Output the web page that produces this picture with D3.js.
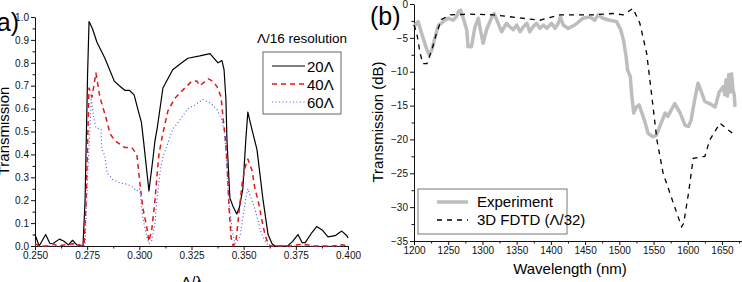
<!DOCTYPE html>
<html>
<head>
<meta charset="utf-8">
<script src="https://cdn.jsdelivr.net/npm/d3@7"></script>
<style>
  body { margin: 0; background: #fff; }
  svg { display: block; font-family: Arial, "Liberation Sans", sans-serif; }
</style>
</head>
<body>
<svg width="742" height="282"></svg>
<script>
// ---- panel (a): transmission vs normalised frequency ----
var t20 = [[0.250,0.05],[0.252,0.0],[0.2551,0.05],[0.2571,0.012],[0.2585,0.01],[0.2617,0.03],[0.2637,0.022],[0.266,0.005],[0.268,0.025],[0.27,0.005],[0.273,0.0],[0.274,0.2],[0.2752,0.75],[0.2759,0.98],[0.2775,0.95],[0.2797,0.89],[0.2835,0.82],[0.288,0.72],[0.2904,0.70],[0.293,0.68],[0.2952,0.68],[0.2975,0.66],[0.2995,0.59],[0.301,0.54],[0.302,0.46],[0.3046,0.24],[0.3065,0.38],[0.3075,0.46],[0.3085,0.51],[0.3113,0.69],[0.316,0.77],[0.3203,0.80],[0.3233,0.82],[0.329,0.83],[0.3339,0.84],[0.3353,0.825],[0.3377,0.80],[0.3396,0.81],[0.3406,0.77],[0.3415,0.64],[0.342,0.46],[0.3434,0.21],[0.3448,0.175],[0.3467,0.14],[0.348,0.17],[0.3496,0.25],[0.351,0.46],[0.352,0.585],[0.3534,0.53],[0.3545,0.49],[0.3564,0.42],[0.3593,0.2],[0.3617,0.05],[0.3636,0.01],[0.365,0.0],[0.371,0.0],[0.3735,0.02],[0.376,0.05],[0.378,0.015],[0.3795,0.015],[0.3828,0.06],[0.385,0.085],[0.3876,0.07],[0.3904,0.04],[0.3938,0.045],[0.397,0.065],[0.3995,0.045],[0.400,0.035]];
var t40 = [[0.250,0.01],[0.252,0.0],[0.256,0.0],[0.2585,0.01],[0.261,0.0],[0.268,0.01],[0.2735,0.0],[0.2745,0.2],[0.2759,0.69],[0.2773,0.65],[0.2792,0.755],[0.2811,0.65],[0.284,0.56],[0.286,0.49],[0.2883,0.46],[0.2907,0.445],[0.293,0.43],[0.2964,0.43],[0.2988,0.40],[0.3002,0.28],[0.3017,0.165],[0.3036,0.08],[0.3046,0.02],[0.306,0.075],[0.3075,0.20],[0.3084,0.30],[0.3094,0.40],[0.311,0.48],[0.3137,0.59],[0.317,0.645],[0.3218,0.69],[0.3252,0.72],[0.3276,0.72],[0.329,0.70],[0.333,0.73],[0.3353,0.72],[0.3373,0.695],[0.3392,0.65],[0.3401,0.56],[0.341,0.49],[0.342,0.37],[0.343,0.165],[0.344,0.035],[0.345,0.0],[0.3463,0.02],[0.3478,0.15],[0.3492,0.27],[0.3506,0.34],[0.352,0.38],[0.354,0.33],[0.3554,0.25],[0.3569,0.20],[0.3588,0.11],[0.3602,0.05],[0.3617,0.01],[0.363,0.0],[0.372,0.0],[0.378,0.008],[0.384,0.0],[0.393,0.0],[0.397,0.005],[0.400,0.0]];
var t60 = [[0.250,0.0],[0.274,0.0],[0.2752,0.3],[0.277,0.64],[0.278,0.57],[0.2788,0.53],[0.2793,0.515],[0.2817,0.51],[0.2817,0.485],[0.282,0.43],[0.2835,0.39],[0.2845,0.32],[0.2874,0.29],[0.2907,0.275],[0.2941,0.27],[0.2964,0.26],[0.2988,0.24],[0.3002,0.25],[0.3017,0.12],[0.3037,0.035],[0.3046,0.01],[0.306,0.025],[0.3075,0.10],[0.3084,0.20],[0.3099,0.32],[0.3113,0.39],[0.3137,0.45],[0.316,0.51],[0.3194,0.55],[0.3233,0.60],[0.3266,0.615],[0.3305,0.64],[0.3339,0.625],[0.3373,0.595],[0.3396,0.55],[0.341,0.48],[0.3415,0.41],[0.342,0.33],[0.3425,0.245],[0.3434,0.16],[0.3444,0.07],[0.3458,0.01],[0.3482,0.04],[0.3497,0.13],[0.3511,0.21],[0.352,0.25],[0.3535,0.21],[0.3554,0.16],[0.3569,0.11],[0.3583,0.06],[0.3598,0.03],[0.362,0.0],[0.400,0.0]];
var xTicksA = [0.250, 0.275, 0.300, 0.325, 0.350, 0.375, 0.400];
var yTicksA = [0.0, 0.1, 0.2, 0.3, 0.4, 0.5, 0.6, 0.7, 0.8, 0.9, 1.0];
var legendA = ["20\u039b", "40\u039b", "60\u039b"];

// ---- panel (b): transmission in dB vs wavelength ----
var experiment = [[1200,-3.35],[1206,-2.6],[1211,-4.3],[1218,-6.5],[1222,-7.5],[1226,-6.8],[1231,-4.8],[1236,-3.1],[1240,-2.85],[1245,-2.4],[1250,-2.1],[1257,-2.4],[1262,-1.9],[1265,-1.1],[1268,-0.9],[1272,-2.1],[1277,-3.8],[1279,-6.3],[1284,-6.3],[1289,-3.4],[1294,-2.1],[1297,-3.8],[1301,-5.8],[1306,-3.8],[1313,-2.1],[1317,-1.4],[1322,-2.6],[1328,-4.1],[1335,-2.85],[1340,-3.35],[1345,-3.8],[1350,-3.1],[1355,-4.1],[1360,-3.35],[1365,-2.85],[1369,-4.1],[1374,-3.35],[1379,-2.85],[1384,-3.6],[1389,-3.1],[1394,-3.6],[1401,-2.85],[1406,-3.6],[1411,-2.85],[1414,-1.9],[1418,-3.1],[1425,-3.6],[1435,-3.1],[1447,-2.1],[1457,-1.9],[1464,-2.4],[1469,-1.6],[1476,-2.1],[1486,-2.4],[1496,-2.6],[1502,-3.8],[1506,-5.3],[1510,-7.8],[1512,-9.75],[1516,-10.7],[1518,-13.2],[1521,-16.1],[1525,-15.2],[1529,-14.9],[1533,-16.1],[1538,-17.6],[1542,-19.1],[1549,-19.6],[1554,-19.4],[1559,-18.1],[1567,-16.1],[1571,-16.6],[1581,-14.7],[1589,-16.1],[1596,-17.9],[1601,-18.1],[1605,-17.1],[1610,-14.2],[1615,-11.7],[1620,-13.0],[1625,-14.4],[1632,-14.7],[1640,-15.2],[1646,-13.0],[1652,-12.2],[1654,-13.4],[1656,-11.2],[1658,-13.6],[1660,-10.4],[1662,-13.0],[1664,-10.3],[1666,-12.6],[1668,-13.5],[1669,-15.2]];
var fdtd = [[1200,-3.1],[1204,-4.3],[1209,-7.3],[1213,-8.8],[1219,-8.8],[1226,-6.8],[1233,-4.3],[1240,-2.3],[1253,-1.6],[1282,-1.5],[1316,-1.6],[1350,-2.0],[1384,-2.4],[1413,-1.6],[1462,-1.6],[1491,-1.4],[1506,-1.6],[1520,-0.65],[1530,-2.85],[1540,-7.3],[1547,-13.2],[1555,-20.1],[1564,-25.0],[1579,-29.4],[1591,-32.9],[1594,-32.4],[1601,-28.0],[1608,-22.8],[1618,-22.6],[1625,-22.5],[1632,-20.1],[1647,-17.6],[1669,-19.4]];
var xTicksB = [1200, 1250, 1300, 1350, 1400, 1450, 1500, 1550, 1600, 1650];
var yTicksB = [0, -5, -10, -15, -20, -25, -30, -35];
var legendB = ["Experiment", "3D FDTD (\u039b/32)"];

var svg = d3.select("svg");

function drawAxes(g, x, y, xt, yt, xMinor, yMinor, xfmt, yfmt) {
  var y0 = y.range()[0], x0 = x.range()[0];
  g.append("g").attr("transform", "translate(0," + y0 + ")")
    .call(d3.axisBottom(x).tickValues(xt).tickFormat(xfmt).tickSizeInner(4).tickSizeOuter(0).tickPadding(2));
  g.append("g").attr("transform", "translate(0," + y0 + ")")
    .call(d3.axisBottom(x).tickValues(xMinor).tickFormat("").tickSizeInner(2.5).tickSizeOuter(0))
    .select(".domain").remove();
  g.append("g").attr("transform", "translate(" + x0 + ",0)")
    .call(d3.axisLeft(y).tickValues(yt).tickFormat(yfmt).tickSizeInner(4).tickSizeOuter(0).tickPadding(2));
  g.append("g").attr("transform", "translate(" + x0 + ",0)")
    .call(d3.axisLeft(y).tickValues(yMinor).tickFormat("").tickSizeInner(2.5).tickSizeOuter(0))
    .select(".domain").remove();
  g.selectAll(".tick text").attr("font-size", 10).attr("font-family", "Arial, Liberation Sans, sans-serif").attr("fill", "#111");
  g.selectAll(".domain, .tick line").attr("stroke", "#111").attr("stroke-width", 1);
}

// panel (a)
var xa = d3.scaleLinear().domain([0.25, 0.40]).range([35, 348]);
var ya = d3.scaleLinear().domain([0, 1.0]).range([246, 17]);
var ga = svg.append("g");
drawAxes(ga, xa, ya, xTicksA, yTicksA,
  d3.range(0.2625, 0.40, 0.025), d3.range(0.05, 1.0, 0.1),
  d3.format(".3f"), d3.format(".1f"));

var lineA = d3.line().x(d => xa(d[0])).y(d => ya(d[1]));
var stylesA = [
  { data: t20, color: "#000", dash: null, w: 1.2 },
  { data: t40, color: "#e01818", dash: "5,4", w: 1.5 },
  { data: t60, color: "#5a5ae6", dash: "1,2.5", w: 1.2 }
];
stylesA.forEach(s => {
  ga.append("path").attr("d", lineA(s.data)).attr("fill", "none")
    .attr("stroke", s.color).attr("stroke-width", s.w)
    .attr("stroke-dasharray", s.dash).attr("stroke-linejoin", "round");
});

ga.append("text").attr("x", 302).attr("y", 43).attr("text-anchor", "middle")
  .attr("font-size", 13.5).text("\u039b/16 resolution");
ga.append("rect").attr("x", 263).attr("y", 52).attr("width", 78).attr("height", 62)
  .attr("fill", "#fff").attr("stroke", "#666").attr("stroke-width", 1);
legendA.forEach((t, i) => {
  var yy = 66 + i * 18;
  ga.append("line").attr("x1", 272).attr("x2", 305).attr("y1", yy).attr("y2", yy)
    .attr("stroke", stylesA[i].color).attr("stroke-width", stylesA[i].w)
    .attr("stroke-dasharray", stylesA[i].dash);
  ga.append("text").attr("x", 307).attr("y", yy + 5.5).attr("font-size", 15).text(t);
});

ga.append("text").attr("transform", "translate(9,131) rotate(-90)").attr("text-anchor", "middle")
  .attr("font-size", 15).text("Transmission");
ga.append("text").attr("x", 192).attr("y", 287).attr("text-anchor", "middle")
  .attr("font-size", 15).text("\u039b/\u03bb");
ga.append("text").attr("x", 19).attr("y", 31).attr("text-anchor", "end")
  .attr("font-size", 25).text("(a)");

// panel (b)
var xb = d3.scaleLinear().domain([1200, 1680]).range([414, 742.5]);
var yb = d3.scaleLinear().domain([-35, 0]).range([241, 4]);
var gb = svg.append("g");
drawAxes(gb, xb, yb, xTicksB, yTicksB,
  d3.range(1225, 1680, 50), d3.range(-32.5, 0, 5),
  d3.format("d"), d3.format("d"));

var lineB = d3.line().x(d => xb(d[0])).y(d => yb(d[1]));
gb.append("path").attr("d", lineB(experiment)).attr("fill", "none")
  .attr("stroke", "#bdbdbd").attr("stroke-width", 3.5).attr("stroke-linejoin", "round");
gb.append("path").attr("d", lineB(fdtd)).attr("fill", "none")
  .attr("stroke", "#000").attr("stroke-width", 1.3).attr("stroke-dasharray", "5,5");

gb.append("rect").attr("x", 418).attr("y", 189).attr("width", 149).attr("height", 45)
  .attr("fill", "#fff").attr("stroke", "#777").attr("stroke-width", 1);
gb.append("line").attr("x1", 437).attr("x2", 468).attr("y1", 202).attr("y2", 202)
  .attr("stroke", "#bdbdbd").attr("stroke-width", 3.5);
gb.append("line").attr("x1", 437).attr("x2", 468).attr("y1", 220).attr("y2", 220)
  .attr("stroke", "#000").attr("stroke-width", 1.3).attr("stroke-dasharray", "5,5");
legendB.forEach((t, i) => {
  gb.append("text").attr("x", 477).attr("y", 207 + i * 18).attr("font-size", 15).text(t);
});

gb.append("text").attr("transform", "translate(383,122) rotate(-90)").attr("text-anchor", "middle")
  .attr("font-size", 15).text("Transmission (dB)");
gb.append("text").attr("x", 570).attr("y", 274).attr("text-anchor", "middle")
  .attr("font-size", 15).text("Wavelength (nm)");
gb.append("text").attr("x", 370).attr("y", 25).attr("font-size", 25).text("(b)");
</script>
</body>
</html>
